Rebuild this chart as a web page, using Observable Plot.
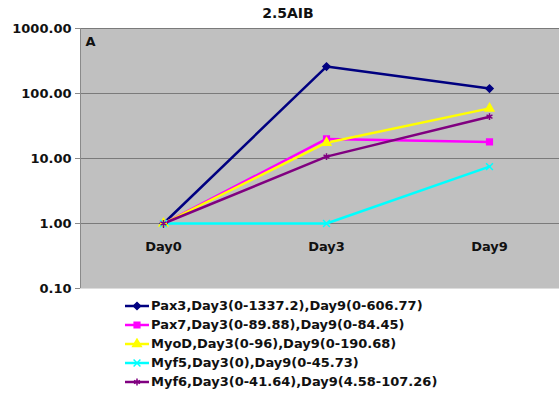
<!DOCTYPE html>
<html>
<head>
<meta charset="utf-8">
<script src="https://cdn.jsdelivr.net/npm/d3@7"></script>
<script src="https://cdn.jsdelivr.net/npm/@observablehq/plot@0.6"></script>
<style>
  html, body { margin: 0; padding: 0; background: #fff; }
  #wrap { position: relative; width: 559px; height: 398px; overflow: hidden; font-family: "DejaVu Sans", sans-serif; font-weight: bold; color: #111; }
  #title { position: absolute; top: 5px; left: 238px; width: 100px; text-align: center; font-size: 14px; }
  #chart { position: absolute; top: 0; left: 0; }
  #legend { position: absolute; top: 296px; left: 124px; font-size: 13px; }
  .row { display: flex; align-items: center; height: 19px; white-space: nowrap; }
  .row svg { margin-right: 1px; }
</style>
</head>
<body>
<div id="wrap">
  <div id="chart"></div>
  <div id="title">2.5AIB</div>
  <div id="legend"></div>
</div>
<script>
const days = ["Day0", "Day3", "Day9"];
const seriesNames = [
  "Pax3,Day3(0-1337.2),Day9(0-606.77)",
  "Pax7,Day3(0-89.88),Day9(0-84.45)",
  "MyoD,Day3(0-96),Day9(0-190.68)",
  "Myf5,Day3(0),Day9(0-45.73)",
  "Myf6,Day3(0-41.64),Day9(4.58-107.26)"
];
const pax3 = [1, 260, 119];
const pax7 = [1, 20, 18];
const myod = [1, 17.5, 59];
const myf5 = [1, 1, 7.5];
const myf6 = [1, 10.7, 44];
const yTicks = [0.1, 1, 10, 100, 1000];
const colors = ["#000080", "#ff00ff", "#ffff00", "#00ffff", "#800080"];
const symbols = ["diamond2", "square", "triangle", "times", "asterisk"];

const values = [pax3, pax7, myod, myf5, myf6];
const data = [];
values.forEach((arr, i) => arr.forEach((v, j) => data.push({series: seriesNames[i], day: days[j], value: v})));

const chart = Plot.plot({
  width: 559,
  height: 300,
  marginTop: 28,
  marginBottom: 12,
  marginLeft: 80,
  marginRight: 0,
  style: { fontFamily: "DejaVu Sans, sans-serif", fontWeight: "bold", fontSize: "13px", color: "#111", overflow: "visible" },
  x: { type: "point", domain: days, range: [162, 489], padding: 0, axis: null, label: null },
  y: { type: "log", domain: [0.1, 1000], axis: null, label: null },
  color: { domain: seriesNames, range: colors },
  symbol: { domain: seriesNames, range: symbols },
  marks: [
    Plot.frame({ fill: "#c0c0c0", stroke: null }),
    Plot.gridY(yTicks.filter(d => d > 0.1), { stroke: "#7a7a7a", strokeOpacity: 1, strokeWidth: 1.2 }),
    Plot.frame({ anchor: "left", stroke: "#8a8a8a" }),
    Plot.frame({ anchor: "bottom", stroke: "#dddddd" }),
    Plot.axisY(yTicks, { label: null, tickSize: 5, tickPadding: 4, tickFormat: d3.format(".2f"), stroke: "#8a8a8a", fill: "#111", fontSize: 13, fontWeight: "bold" }),
    Plot.axisX({ anchor: "bottom", label: null, tickSize: 0, tickPadding: 0, dy: -47, fontSize: 13, fontWeight: "bold", fill: "#111" }),
    Plot.text(["A"], { frameAnchor: "top-left", dx: 5, dy: 8, fontSize: 13, fontWeight: "bold", fill: "#111" }),
    Plot.line(data, { x: "day", y: "value", z: "series", stroke: "series", strokeWidth: 2.5 }),
    Plot.dot(data, { x: "day", y: "value", symbol: "series", stroke: "series", fill: "series", r: 3.2, strokeWidth: 1.5 })
  ]
});
document.getElementById("chart").appendChild(chart);

const legend = document.getElementById("legend");
const symMap = {diamond2: d3.symbolDiamond2, square: d3.symbolSquare, triangle: d3.symbolTriangle, times: d3.symbolTimes, asterisk: d3.symbolAsterisk};
seriesNames.forEach((name, i) => {
  const row = document.createElement("div");
  row.className = "row";
  const sw = d3.create("svg").attr("width", 26).attr("height", 12);
  sw.append("line").attr("x1", 1).attr("x2", 25).attr("y1", 6).attr("y2", 6).attr("stroke", colors[i]).attr("stroke-width", 2.5);
  sw.append("path").attr("d", d3.symbol(symMap[symbols[i]], 32)()).attr("transform", "translate(13,6)").attr("fill", colors[i]).attr("stroke", colors[i]).attr("stroke-width", 1.5);
  row.appendChild(sw.node());
  const t = document.createElement("span");
  t.textContent = name;
  row.appendChild(t);
  legend.appendChild(row);
});
</script>
</body>
</html>
